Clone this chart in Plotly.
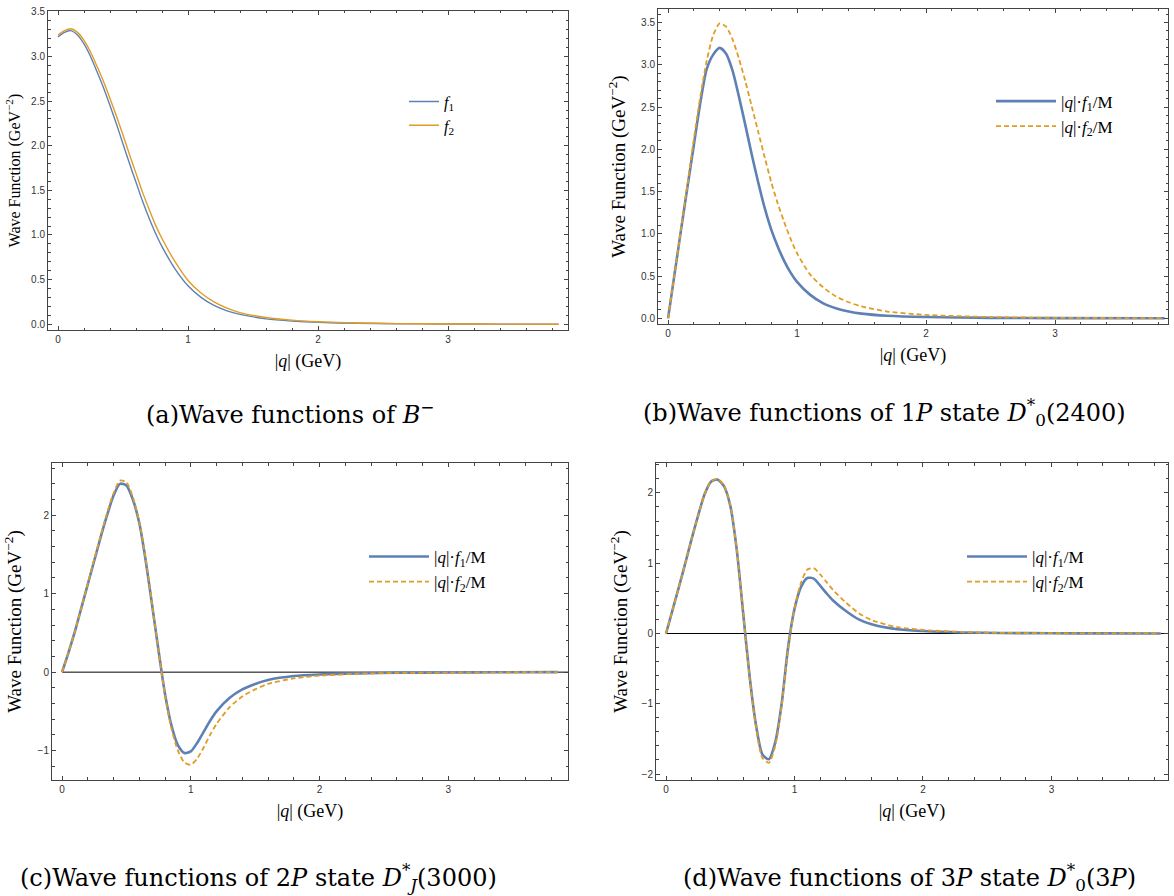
import plotly.graph_objects as go

# ---------------- data ----------------
# (a) B^- wave functions
q_a = [0, 0.05, 0.1, 0.15, 0.2, 0.25, 0.3, 0.35, 0.4, 0.45, 0.5, 0.55, 0.6, 0.65, 0.7, 0.75,
       0.8, 0.9, 1.0, 1.1, 1.2, 1.3, 1.4, 1.6, 1.8, 2.0, 2.3, 2.6, 3.0, 3.4, 3.85]
a_f1 = [3.22, 3.27, 3.29, 3.24, 3.14, 3.00, 2.83, 2.65, 2.45, 2.24, 2.02, 1.80, 1.59, 1.38, 1.19, 1.02,
        0.87, 0.62, 0.43, 0.30, 0.21, 0.15, 0.11, 0.06, 0.035, 0.02, 0.01, 0.005, 0.002, 0.001, 0.0]
a_f2 = [3.24, 3.29, 3.31, 3.27, 3.18, 3.05, 2.89, 2.72, 2.53, 2.33, 2.12, 1.90, 1.69, 1.48, 1.29, 1.11,
        0.96, 0.70, 0.49, 0.35, 0.25, 0.18, 0.13, 0.075, 0.045, 0.028, 0.014, 0.007, 0.003, 0.001, 0.0]

# (b) 1P state D0*(2400)
q_b = [0, 0.05, 0.1, 0.15, 0.2, 0.25, 0.3, 0.35, 0.4, 0.45, 0.5, 0.55, 0.6, 0.65, 0.7, 0.75,
       0.8, 0.85, 0.9, 0.95, 1.0, 1.1, 1.2, 1.3, 1.4, 1.5, 1.7, 2.0, 2.5, 3.0, 3.85]
b_f1 = [0, 0.52, 1.04, 1.55, 2.05, 2.55, 2.95, 3.12, 3.20, 3.13, 2.93, 2.62, 2.28, 1.93, 1.60, 1.30,
        1.05, 0.85, 0.68, 0.54, 0.43, 0.28, 0.18, 0.12, 0.08, 0.055, 0.03, 0.015, 0.005, 0.002, 0.0]
b_f2 = [0, 0.52, 1.05, 1.58, 2.12, 2.62, 3.05, 3.35, 3.49, 3.45, 3.30, 3.07, 2.80, 2.50, 2.20, 1.90,
        1.61, 1.36, 1.14, 0.94, 0.77, 0.52, 0.37, 0.26, 0.19, 0.14, 0.08, 0.04, 0.015, 0.006, 0.001]

# (c) 2P state DJ*(3000)
q_c = [0, 0.05, 0.1, 0.15, 0.2, 0.25, 0.3, 0.35, 0.4, 0.45, 0.5, 0.55, 0.6, 0.65, 0.7, 0.75,
       0.8, 0.85, 0.9, 0.95, 1.0, 1.05, 1.1, 1.15, 1.2, 1.3, 1.4, 1.5, 1.6, 1.8, 2.0, 2.3, 2.6,
       3.0, 3.4, 3.85]
c_f1 = [0, 0.25, 0.52, 0.82, 1.12, 1.42, 1.72, 2.0, 2.25, 2.40, 2.38, 2.2, 1.9, 1.42, 0.85, 0.27,
        -0.28, -0.68, -0.93, -1.03, -1.01, -0.9, -0.76, -0.62, -0.5, -0.33, -0.22, -0.15, -0.1,
        -0.05, -0.03, -0.015, -0.008, -0.004, -0.002, 0]
c_f2 = [0, 0.25, 0.52, 0.82, 1.13, 1.44, 1.74, 2.03, 2.28, 2.44, 2.42, 2.23, 1.92, 1.44, 0.86, 0.27,
        -0.3, -0.72, -1.0, -1.15, -1.18, -1.1, -0.96, -0.8, -0.66, -0.45, -0.31, -0.22, -0.15,
        -0.08, -0.045, -0.02, -0.01, -0.005, -0.002, 0]

# (d) 3P state D0*(3P)
q_d = [0, 0.05, 0.1, 0.15, 0.2, 0.25, 0.3, 0.35, 0.4, 0.45, 0.5, 0.55, 0.6, 0.65, 0.7, 0.75,
       0.8, 0.85, 0.9, 0.95, 1.0, 1.05, 1.1, 1.15, 1.2, 1.25, 1.3, 1.4, 1.5, 1.6, 1.8, 2.0, 2.3,
       2.6, 3.0, 3.4, 3.85]
d_f1 = [0, 0.33, 0.66, 1.0, 1.35, 1.68, 1.98, 2.16, 2.19, 2.1, 1.82, 1.2, 0.3, -0.6, -1.3, -1.72,
        -1.79, -1.55, -1.0, -0.2, 0.35, 0.66, 0.79, 0.78, 0.68, 0.57, 0.47, 0.32, 0.2, 0.13, 0.06,
        0.035, 0.015, 0.007, 0.003, 0.001, 0]
d_f2 = [0, 0.33, 0.66, 1.0, 1.35, 1.68, 1.98, 2.16, 2.2, 2.11, 1.83, 1.21, 0.3, -0.62, -1.33, -1.77,
        -1.84, -1.6, -1.03, -0.22, 0.36, 0.72, 0.91, 0.93, 0.84, 0.73, 0.62, 0.44, 0.29, 0.19, 0.09,
        0.05, 0.022, 0.01, 0.004, 0.0015, 0]

captions = [
    "(a)Wave functions of <i>B</i><sup>−</sup>",
    "(b)Wave functions of 1<i>P</i> state <i>D</i><sup>*</sup><sub>0</sub>(2400)",
    "(c)Wave functions of 2<i>P</i> state <i>D</i><sup>*</sup><sub><i>J</i></sub>(3000)",
    "(d)Wave functions of 3<i>P</i> state <i>D</i><sup>*</sup><sub>0</sub>(3<i>P</i>)",
]

# ---------------- styling ----------------
W, H = 1174, 896
BLUE = "#5E81B5"
ORANGE = "#E19C24"
SERIF = "Liberation Serif, Times New Roman, Times, DejaVu Serif, serif"
CAPTION_FONT = "DejaVu Serif, serif"
FRAME = "#444444"


def px(x0, x1):
    return [x0 / W, x1 / W]


def py(top, bottom):
    return [1 - bottom / H, 1 - top / H]


# pixel boxes of the four frames: (left, right, top, bottom)
boxes = [(48, 568, 6, 327), (658, 1168, 4, 321), (52, 568, 461, 779), (656, 1168, 461, 779)]
xranges = [[-0.077, 3.923], [-0.078, 3.876], [-0.078, 3.93], [-0.078, 3.907]]
yranges = [[-0.067, 3.51], [-0.07, 3.66], [-1.37, 2.66], [-2.08, 2.42]]
ydtick = [0.5, 0.5, 1, 1]
yminor = [0.1, 0.1, 0.2, 0.2]
yfmt = [".1f", ".1f", "d", "d"]
ytitle_size = [16, 19, 19, 19]
ytitle_standoff = [6, 10, 10, 8]

series = [
    (q_a, a_f1, a_f2, "<i>f</i><sub>1</sub>", "<i>f</i><sub>2</sub>", 1.4, 1.4, "solid"),
    (q_b, b_f1, b_f2, "|<i>q</i>|·<i>f</i><sub>1</sub>/M", "|<i>q</i>|·<i>f</i><sub>2</sub>/M", 2.6, 1.8, "5px,3px"),
    (q_c, c_f1, c_f2, "|<i>q</i>|·<i>f</i><sub>1</sub>/M", "|<i>q</i>|·<i>f</i><sub>2</sub>/M", 2.6, 1.8, "5px,3px"),
    (q_d, d_f1, d_f2, "|<i>q</i>|·<i>f</i><sub>1</sub>/M", "|<i>q</i>|·<i>f</i><sub>2</sub>/M", 2.6, 1.8, "5px,3px"),
]

# legend anchor points (left, top) in pixels
legend_pos = [(404, 80), (991, 79), (364, 537), (962, 537)]
legend_itemwidth = [30, 60, 60, 60]

fig = go.Figure()
layout = dict(
    width=W, height=H, margin=dict(l=0, r=0, t=0, b=0),
    paper_bgcolor="white", plot_bgcolor="white",
    font=dict(family=SERIF, color="black"),
    showlegend=True,
)

for i, (q, f1, f2, n1, n2, w1, w2, dash2) in enumerate(series):
    k = "" if i == 0 else str(i + 1)
    lg = "legend" if i == 0 else f"legend{i + 1}"
    fig.add_trace(go.Scatter(x=q, y=f1, mode="lines", name=n1, legend=lg,
                             xaxis="x" + k, yaxis="y" + k,
                             line=dict(color=BLUE, width=w1, shape="spline", smoothing=0.7)))
    fig.add_trace(go.Scatter(x=q, y=f2, mode="lines", name=n2, legend=lg,
                             xaxis="x" + k, yaxis="y" + k,
                             line=dict(color=ORANGE, width=w2, dash=dash2,
                                       shape="spline", smoothing=0.7)))
    l, r, t, b = boxes[i]
    common = dict(showgrid=False, zeroline=False, showline=True, linecolor=FRAME, linewidth=1,
                  mirror="allticks", ticks="inside", ticklen=4, tickcolor=FRAME, tickwidth=1,
                  tickfont=dict(family="Liberation Sans, Arial, sans-serif", size=10, color="#333333"))
    layout["xaxis" + k] = dict(
        common, domain=px(l, r), range=xranges[i], anchor="y" + k,
        tickmode="linear", tick0=0, dtick=1,
        minor=dict(ticks="inside", ticklen=2.5, dtick=0.2, tick0=0, tickcolor=FRAME),
        title=dict(text="|<i>q</i>| (GeV)", font=dict(family=SERIF, size=18), standoff=10),
    )
    layout["yaxis" + k] = dict(
        common, domain=py(t, b), range=yranges[i], anchor="x" + k,
        tickmode="linear", tick0=0, dtick=ydtick[i], tickformat=yfmt[i],
        minor=dict(ticks="inside", ticklen=2.5, dtick=yminor[i], tick0=0, tickcolor=FRAME),
        title=dict(text="Wave Function (GeV<sup>−2</sup>)",
                   font=dict(family=SERIF, size=ytitle_size[i]),
                   standoff=ytitle_standoff[i]),
    )
    lx, ly = legend_pos[i]
    layout[lg] = dict(x=lx / W, y=1 - ly / H, xanchor="left", yanchor="top",
                      bgcolor="rgba(0,0,0,0)", borderwidth=0,
                      font=dict(family=SERIF, size=17 if i else 16, color="black"),
                      tracegroupgap=0, itemwidth=legend_itemwidth[i])

fig.update_layout(**layout)

# horizontal axis at zero for the signed panels
for k in ("3", "4"):
    fig.add_shape(type="line", xref="x" + k, yref="y" + k, x0=0, x1=layout["xaxis" + k]["range"][1],
                  y0=0, y1=0, line=dict(color="black", width=1), layer="below")

cap_pos = [(290, 410), (884, 410), (258, 877), (909, 877)]
for text, (cx, cy) in zip(captions, cap_pos):
    fig.add_annotation(text=text, x=cx / W, y=1 - cy / H, xref="paper", yref="paper",
                       showarrow=False, xanchor="center", yanchor="middle",
                       font=dict(family=CAPTION_FONT, size=24, color="black"))

fig.write_html("out.html")
